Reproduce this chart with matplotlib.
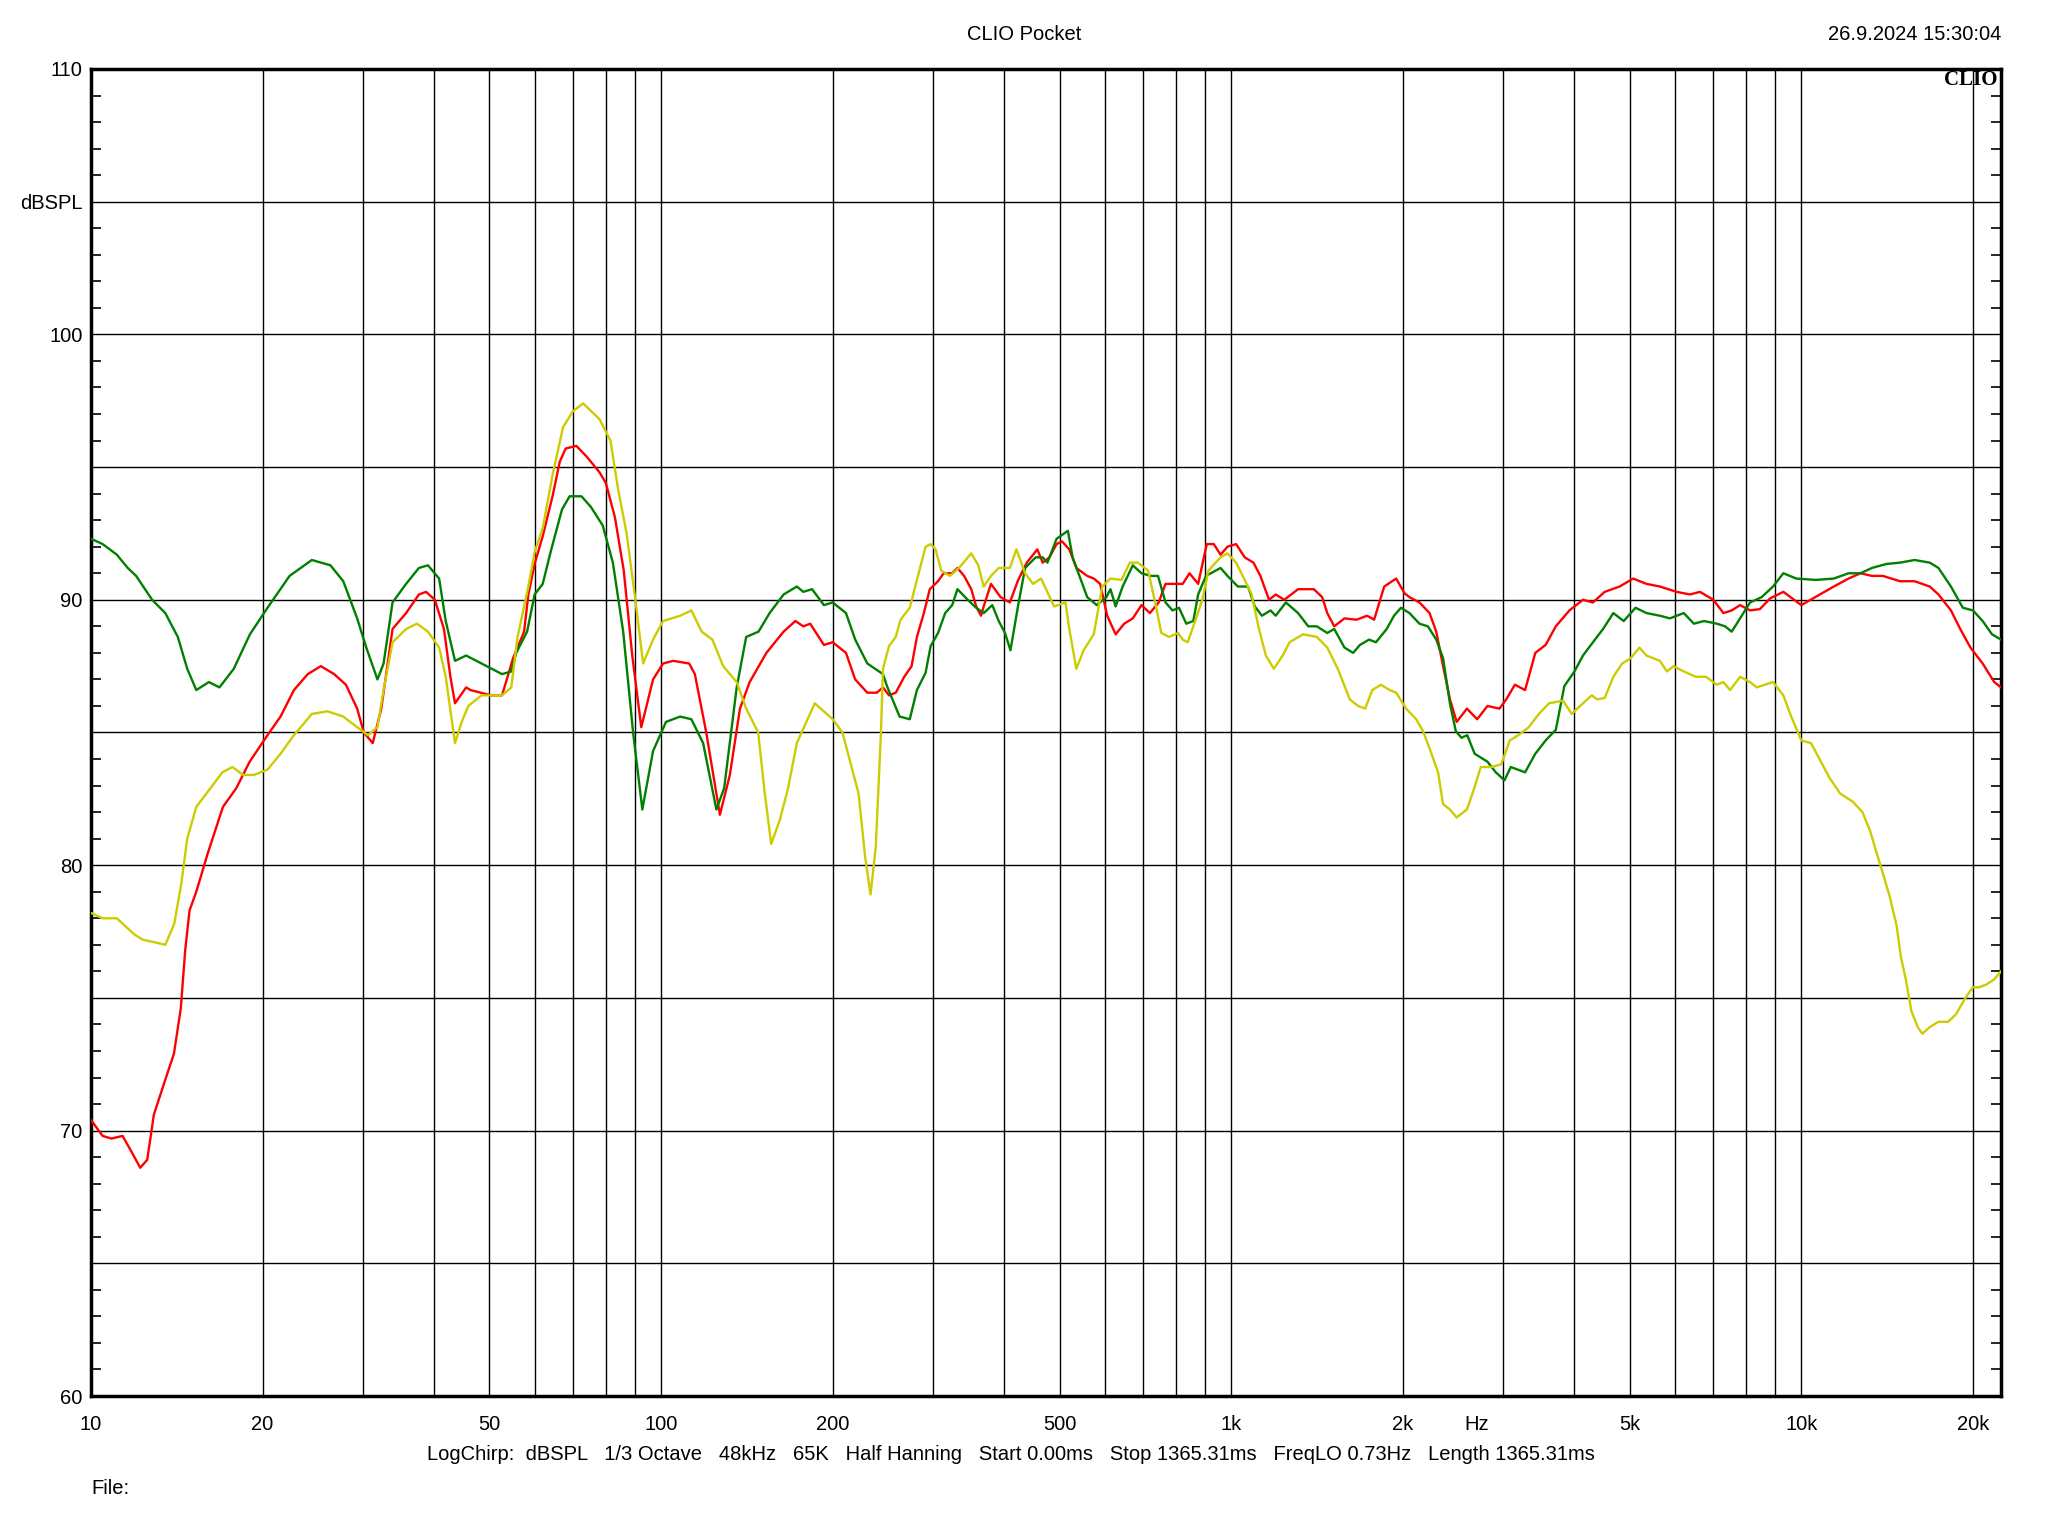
import matplotlib
matplotlib.use("Agg")
import matplotlib.pyplot as plt
from matplotlib.ticker import FixedLocator, NullFormatter

plt.rcParams['font.family'] = ['Liberation Sans', 'DejaVu Sans']

# --- measured curves (frequency in Hz, level in dBSPL) ---
red_freq = [10, 10.48, 10.86, 11.36, 11.78, 12.2, 12.55, 12.89, 13.49, 13.98, 14.37, 14.63, 14.89, 15.3, 16.0,
            17.04, 17.98, 18.98, 20.4, 21.5, 22.7, 24.0, 25.3, 26.7, 28.0, 29.3, 30.1, 31.2, 32.3, 33.8,
            35.7, 37.6, 38.7, 40.1, 41.6, 42.7, 43.5, 45.5, 46.3, 50.3, 52.6, 55, 57.5, 58.5, 60, 62,
            64.5, 66.4, 68, 71, 74, 78, 80, 83, 86, 89, 92.3, 96.8, 100.8, 105, 112, 114.6, 120, 126.8,
            132, 137.5, 143, 153, 164, 172, 177.6, 182.6, 193, 200, 211, 219, 230, 239, 245, 251, 258,
            267, 275, 281, 289, 296, 306, 313, 324, 331, 340, 350, 357, 364, 368, 379, 394, 409, 423,
            438, 457, 467, 480, 494, 505, 520, 535, 559, 574, 589, 606, 627, 649, 672, 696, 720, 746,
            767, 800, 822, 845, 875, 906, 932, 958, 985, 1020, 1056, 1094, 1125, 1165, 1197, 1239,
            1310, 1396, 1444, 1474, 1516, 1580, 1659, 1731, 1781, 1855, 1947, 2013, 2054, 2139, 2228,
            2289, 2353, 2419, 2486, 2591, 2700, 2815, 2955, 3037, 3145, 3277, 3415, 3560, 3710, 3920,
            4140, 4310, 4520, 4800, 5070, 5350, 5650, 6040, 6380, 6640, 7010, 7300, 7550, 7810, 8130,
            8460, 8810, 9300, 10000, 10780, 11400, 12100, 12700, 13300, 13900, 14900, 15800, 16800,
            17400, 18300, 19000, 19800, 20800, 21800, 22400]
red_db = [70.4, 69.8, 69.7, 69.8, 69.2, 68.6, 68.9, 70.6, 71.9, 72.9, 74.6, 76.8, 78.3, 79.0, 80.4,
          82.2, 82.9, 83.9, 84.9, 85.6, 86.6, 87.2, 87.5, 87.2, 86.8, 85.9, 85.0, 84.6, 85.9, 88.9,
          89.5, 90.2, 90.3, 90.0, 88.9, 87.1, 86.1, 86.7, 86.6, 86.4, 86.4, 87.8, 88.8, 90.2, 91.35, 92.4,
          93.9, 95.2, 95.7, 95.8, 95.4, 94.8, 94.4, 93.1, 91.1, 87.9, 85.2, 87.0, 87.6, 87.7, 87.6, 87.2, 85.0, 81.9,
          83.4, 85.9, 86.9, 88.0, 88.8, 89.2, 89.0, 89.1, 88.3, 88.4, 88.0, 87.0, 86.5, 86.5, 86.7, 86.4, 86.5,
          87.1, 87.5, 88.6, 89.5, 90.4, 90.7, 91.0, 91.0, 91.2, 90.9, 90.4, 89.75, 89.4, 89.75, 90.6, 90.1, 89.9, 90.75,
          91.4, 91.9, 91.4, 91.6, 92.1, 92.2, 91.9, 91.2, 90.9, 90.8, 90.6, 89.4, 88.7, 89.1, 89.3, 89.8, 89.5, 89.9,
          90.6, 90.6, 90.6, 91.0, 90.6, 92.1, 92.1, 91.7, 92.0, 92.1, 91.6, 91.4, 90.9, 90.0, 90.2, 90.0,
          90.4, 90.4, 90.1, 89.5, 89.0, 89.3, 89.25, 89.4, 89.25, 90.5, 90.8, 90.25, 90.1, 89.9, 89.5,
          88.8, 87.5, 86.25, 85.4, 85.9, 85.5, 86.0, 85.9, 86.25, 86.8, 86.6, 88.0, 88.3, 89.0, 89.6,
          90.0, 89.9, 90.3, 90.5, 90.8, 90.6, 90.5, 90.3, 90.2, 90.3, 90.0, 89.5, 89.6, 89.8, 89.6,
          89.65, 90.05, 90.3, 89.8, 90.2, 90.5, 90.8, 91.0, 90.9, 90.9, 90.7, 90.7, 90.5,
          90.2, 89.6, 88.9, 88.2, 87.6, 86.9, 86.7]

green_freq = [10, 10.48, 11.1, 11.6, 12.0, 12.8, 13.5, 14.2, 14.75, 15.3, 16.1, 16.8, 17.8, 19.0, 20.4,
              22.3, 24.4, 26.3, 27.7, 29.3, 30.4, 31.8, 32.6, 33.8, 35.7, 37.6, 39.0, 40.8, 41.9, 43.5,
              45.5, 48.4, 52.6, 54.6, 55.7, 58.2, 60, 62, 64, 67, 69.1, 72.5, 75.3, 79, 82.3, 85.8, 89.3,
              92.7, 96.8, 102, 108, 113, 118.5, 125, 129, 135.7, 141, 148.2, 155, 164, 173, 177.6, 184,
              193, 200, 211, 219, 230, 245, 249, 262, 273, 281, 291, 297, 306, 315, 324, 331, 345, 357,
              368, 381, 391, 401, 410, 423, 435, 454, 467, 476, 494, 517, 527, 545, 559, 581, 604, 614,
              627, 645, 672, 696, 723, 744, 767, 789, 810, 834, 858, 875, 903, 958, 985, 1027, 1070,
              1100, 1132, 1172, 1197, 1247, 1310, 1365, 1413, 1474, 1516, 1580, 1636, 1682, 1745, 1794,
              1874, 1930, 1985, 2054, 2139, 2213, 2289, 2353, 2419, 2477, 2535, 2594, 2673, 2815, 2911,
              3016, 3093, 3277, 3415, 3560, 3710, 3840, 4000, 4140, 4310, 4490, 4680, 4880, 5120, 5350,
              5650, 5880, 6220, 6480, 6750, 7110, 7350, 7550, 7810, 8130, 8520, 8920, 9300, 9800,
              10600, 11400, 12100, 12700, 13300, 14100, 14900, 15800, 16800, 17400, 18300, 19200,
              20000, 20800, 21600, 22400]
green_db = [92.3, 92.1, 91.7, 91.2, 90.9, 90.0, 89.5, 88.6, 87.4, 86.6, 86.9, 86.7, 87.4, 88.7, 89.7,
            90.9, 91.5, 91.3, 90.7, 89.3, 88.2, 87.0, 87.6, 89.9, 90.6, 91.2, 91.3, 90.8, 89.2, 87.7,
            87.9, 87.6, 87.2, 87.3, 88.0, 88.8, 90.2, 90.6, 91.8, 93.4, 93.9, 93.9, 93.5, 92.8, 91.4, 88.8, 85.0,
            82.1, 84.3, 85.4, 85.6, 85.5, 84.6, 82.1, 82.9, 86.7, 88.6, 88.8, 89.5, 90.2, 90.5, 90.3, 90.4,
            89.8, 89.9, 89.5, 88.5, 87.6, 87.2, 86.75, 85.6, 85.5, 86.6, 87.25, 88.25, 88.75, 89.5, 89.8, 90.4, 90.0, 89.7,
            89.5, 89.8, 89.2, 88.75, 88.1, 89.8, 91.2, 91.6, 91.6, 91.4, 92.3, 92.6, 91.6, 90.75, 90.1, 89.8, 90.1, 90.4,
            89.75, 90.5, 91.3, 91.0, 90.9, 90.9, 89.9, 89.6, 89.7, 89.1, 89.2, 90.2, 90.9, 91.2, 90.9, 90.5, 90.5,
            89.75, 89.4, 89.6, 89.4, 89.9, 89.5, 89.0, 89.0, 88.75, 88.9, 88.2, 88.0, 88.3, 88.5, 88.4,
            88.9, 89.4, 89.7, 89.5, 89.1, 89.0, 88.5, 87.8, 86.1, 85.05, 84.8, 84.9, 84.2, 83.9, 83.5,
            83.2, 83.7, 83.5, 84.2, 84.7, 85.1, 86.75, 87.3, 87.9, 88.4, 88.9, 89.5, 89.2, 89.7, 89.5,
            89.4, 89.3, 89.5, 89.1, 89.2, 89.1, 89.0, 88.8, 89.3, 89.9, 90.1, 90.5, 91.0, 90.8,
            90.75, 90.8, 91.0, 91.0, 91.2, 91.35, 91.4, 91.5, 91.4, 91.2, 90.5, 89.7,
            89.6, 89.2, 88.7, 88.5]

yellow_freq = [10, 10.48, 11.1, 11.9, 12.3, 12.9, 13.5, 14.0, 14.4, 14.75, 15.3, 16.2, 17.0, 17.7, 18.5,
               19.3, 20.4, 21.5, 22.7, 24.4, 26.0, 27.7, 29.3, 30.6, 31.8, 32.6, 33.8, 35.7, 37.3, 39.0,
               40.8, 41.9, 43.5, 44.7, 45.9, 48.4, 52.6, 54.6, 56, 58.5, 60, 62, 64.5, 67.3, 70, 73, 78,
               81.5, 84, 87, 90, 93, 96.8, 100.8, 108, 113, 117.8, 123, 128.5, 135.7, 141, 148, 152, 156,
               161.5, 167, 173, 186, 200, 208, 222, 228, 233, 238, 243, 245, 251, 258, 263, 273, 281, 291,
               297, 303, 310, 321, 333, 350, 360, 368, 379, 391, 409, 420, 435, 449, 464, 489, 512, 520,
               535, 551, 574, 594, 614, 642, 664, 686, 715, 738, 754, 778, 807, 822, 839, 858, 890, 912,
               958, 985, 1020, 1056, 1086, 1116, 1150, 1188, 1231, 1266, 1337, 1413, 1474, 1538, 1614,
               1669, 1718, 1768, 1831, 1896, 1947, 2027, 2111, 2170, 2228, 2306, 2353, 2419, 2486, 2591,
               2664, 2740, 2857, 2976, 3080, 3190, 3325, 3465, 3610, 3820, 3955, 4140, 4290, 4380, 4520,
               4680, 4850, 5020, 5200, 5350, 5650, 5810, 5970, 6220, 6530, 6800, 7110, 7300, 7500, 7810,
               8130, 8350, 8920, 9300, 9600, 10000, 10400, 10700, 11200, 11700, 12300, 12800, 13200,
               13450, 13900, 14300, 14700, 14960, 15250, 15600, 16000, 16300, 16800, 17400, 18100,
               18700, 19400, 20000, 20500, 21100, 21800, 22400]
yellow_db = [78.2, 78.0, 78.0, 77.4, 77.2, 77.1, 77.0, 77.8, 79.3, 81.0, 82.2, 82.9, 83.5, 83.7, 83.4,
             83.4, 83.6, 84.2, 84.9, 85.7, 85.8, 85.6, 85.2, 84.9, 85.2, 86.6, 88.4, 88.9, 89.1, 88.8,
             88.2, 87.1, 84.6, 85.4, 86.0, 86.4, 86.4, 86.7, 88.6, 90.5, 91.8, 92.7, 94.7, 96.5, 97.1, 97.4, 96.8,
             96.0, 94.2, 92.5, 90.1, 87.6, 88.5, 89.2, 89.4, 89.6, 88.8, 88.5, 87.5, 86.9, 85.9, 85.0, 82.7, 80.8,
             81.7, 82.9, 84.6, 86.1, 85.5, 85.0, 82.7, 80.3, 78.9, 80.7, 85.0, 87.4, 88.25, 88.6, 89.25, 89.7, 90.75, 92.0,
             92.1, 91.9, 91.1, 90.9, 91.2, 91.75, 91.3, 90.5, 90.9, 91.2, 91.2, 91.9, 91.0, 90.6, 90.8, 89.75, 89.9, 88.9,
             87.4, 88.1, 88.7, 90.5, 90.8, 90.75, 91.4, 91.4, 91.1, 89.75, 88.75, 88.6, 88.75, 88.5, 88.4, 89.0, 90.0, 91.1,
             91.6, 91.75, 91.4, 90.75, 90.2, 89.0, 87.9, 87.4, 87.9, 88.4, 88.7, 88.6, 88.2, 87.4, 86.25,
             86.0, 85.9, 86.6, 86.8, 86.6, 86.5, 85.9, 85.5, 85.05, 84.4, 83.5, 82.3, 82.1, 81.8, 82.1,
             82.85, 83.7, 83.7, 83.8, 84.7, 84.9, 85.2, 85.7, 86.1, 86.2, 85.7, 86.1, 86.4, 86.25, 86.3,
             87.1, 87.6, 87.8, 88.2, 87.9, 87.7, 87.3, 87.5, 87.3, 87.1, 87.1, 86.8, 86.9, 86.6, 87.1,
             86.9, 86.7, 86.9, 86.4, 85.6, 84.7, 84.6, 84.1, 83.3, 82.7, 82.4, 82.0, 81.3,
             80.7, 79.7, 78.8, 77.7, 76.5, 75.7, 74.5, 73.9, 73.65, 73.9, 74.1, 74.1,
             74.4, 75.0, 75.4, 75.4, 75.5, 75.7, 76.0]

# axis decoration
x_grid = [20, 30, 40, 50, 60, 70, 80, 90, 100, 200, 300, 400, 500, 600, 700, 800, 900,
          1000, 2000, 3000, 4000, 5000, 6000, 7000, 8000, 9000, 10000, 20000]
x_label_pos = [10, 20, 50, 100, 200, 500, 1000, 2000, 2700, 5000, 10000, 20000]
x_labels = ['10', '20', '50', '100', '200', '500', '1k', '2k', 'Hz', '5k', '10k', '20k']
y_label_pos = [60, 65, 70, 75, 80, 85, 90, 95, 100, 105, 110]
y_labels = ['60', '', '70', '', '80', '', '90', '', '100', 'dBSPL', '110']

W, H = 2048, 1536
fig = plt.figure(figsize=(W / 100, H / 100), dpi=100)
ax = fig.add_axes([91 / W, 1 - 1396 / H, (2001 - 91) / W, (1396 - 69) / H])

ax.plot(red_freq, red_db, color='#ff0000', lw=1.7, zorder=3)
ax.plot(green_freq, green_db, color='#008000', lw=1.7, zorder=3)
ax.plot(yellow_freq, yellow_db, color='#cccc00', lw=1.7, zorder=3)

ax.set_xscale('log')
ax.set_xlim(10, 22400)
ax.set_ylim(60, 110)

ax.xaxis.set_major_locator(FixedLocator(x_label_pos))
ax.set_xticklabels(x_labels)
ax.xaxis.set_minor_locator(FixedLocator(x_grid))
ax.xaxis.set_minor_formatter(NullFormatter())
ax.xaxis.remove_overlapping_locs = False
ax.tick_params(axis='x', which='both', length=0, labelsize=14.5, pad=14)
ax.grid(True, axis='x', which='minor', color='black', lw=1.0)

ax.set_yticks(y_label_pos)
ax.set_yticklabels(y_labels)
ax.yaxis.set_minor_locator(FixedLocator(range(60, 111)))
ax.tick_params(axis='y', which='major', length=0, labelsize=14.5, pad=6)
ax.tick_params(axis='y', which='minor', direction='in', length=7, width=1.2,
               left=True, right=True)
ax.grid(True, axis='y', which='major', color='black', lw=1.0)

for s in ax.spines.values():
    s.set_linewidth(2.5)

ax.text(0.998, 0.999, 'CLIO', transform=ax.transAxes, ha='right', va='top',
        fontsize=15, fontweight='bold', family=['Liberation Serif', 'DejaVu Serif'])

fig.text(1024 / W, 1 - 34 / H, 'CLIO Pocket', ha='center', va='center', fontsize=14.5)
fig.text(2001 / W, 1 - 34 / H, '26.9.2024 15:30:04', ha='right', va='center', fontsize=14.5)
fig.text(1011 / W, 1 - 1455 / H,
         'LogChirp:  dBSPL   1/3 Octave   48kHz   65K   Half Hanning   Start 0.00ms   '
         'Stop 1365.31ms   FreqLO 0.73Hz   Length 1365.31ms',
         ha='center', va='center', fontsize=14.5)
fig.text(91 / W, 1 - 1489 / H, 'File:', ha='left', va='center', fontsize=14.5)

fig.savefig('out.png', dpi=100, facecolor='white')
